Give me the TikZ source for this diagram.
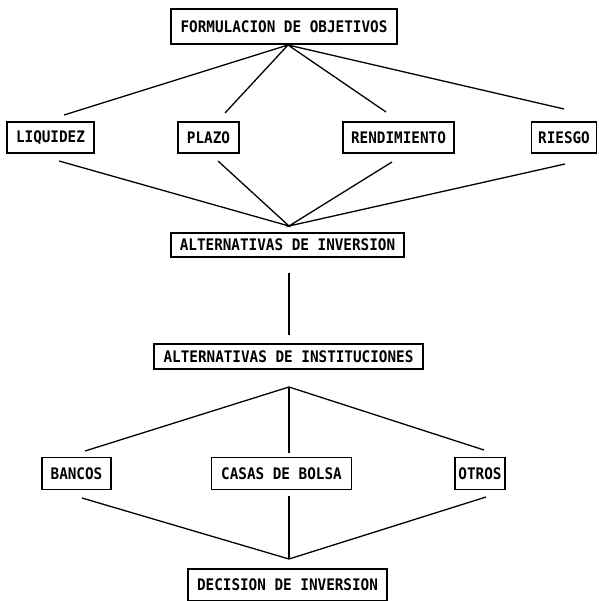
\documentclass[tikz,border=0pt]{standalone}
\usepackage{fontspec}
\newfontfamily\dgfont[FakeStretch=0.9]{DejaVu Sans Mono Bold}
\begin{document}
\begin{tikzpicture}[x=1pt,y=-1pt,
  box/.style={draw,line width=1.1pt,inner sep=0pt,minimum height=#1,font=\dgfont\fontsize{15.9}{16}\selectfont},
  box/.default=31,
  conn/.style={line width=1.3pt}]
\useasboundingbox (0,0) rectangle (598,601);
% boxes
\node[box=35,minimum width=226] (form) at (284,26.5) {FORMULACION DE OBJETIVOS};
\node[box,minimum width=87] (liq) at (50.5,137.5) {LIQUIDEZ};
\node[box,minimum width=61] (plazo) at (208.5,137.5) {PLAZO};
\node[box,minimum width=111] (rend) at (398.5,137.5) {RENDIMIENTO};
\node[box,minimum width=65] (riesgo) at (564,137.5) {RIESGO};
\node[box=24,minimum width=233] (altinv) at (287.5,245) {ALTERNATIVAS DE INVERSION};
\node[box=25,minimum width=269] (altinst) at (288.5,356.5) {ALTERNATIVAS DE INSTITUCIONES};
\node[box=32,minimum width=69] (bancos) at (76.5,473.5) {BANCOS};
\node[box=32,minimum width=140] (casas) at (281.5,473.5) {CASAS DE BOLSA};
\node[box=32,minimum width=50] (otros) at (480,473.5) {OTROS};
\node[box=32,minimum width=199] (decision) at (287.5,585) {DECISION DE INVERSION};
% connector points
\coordinate (a1) at (288,45);
\coordinate (liqT) at (64,115);
\coordinate (plazoT) at (225,113);
\coordinate (rendT) at (386,112);
\coordinate (riesgoT) at (564,109);
\coordinate (a2) at (289,226);
\coordinate (liqB) at (59,161);
\coordinate (plazoB) at (218,161);
\coordinate (rendB) at (392,162);
\coordinate (riesgoB) at (565,164);
\coordinate (invB) at (289,273);
\coordinate (instT) at (289,335);
\coordinate (a3) at (289,387);
\coordinate (bancosT) at (85,451);
\coordinate (casasT) at (289,453);
\coordinate (otrosT) at (484,450);
\coordinate (a4) at (289,559);
\coordinate (bancosB) at (82,498);
\coordinate (casasB) at (289,496);
\coordinate (otrosB) at (486,497);
% connectors
\draw[conn] (liqT) -- (a1) -- (plazoT);
\draw[conn] (rendT) -- (a1) -- (riesgoT);
\draw[conn] (liqB) -- (a2) -- (plazoB);
\draw[conn] (rendB) -- (a2) -- (riesgoB);
\draw[conn] (invB) -- (instT);
\draw[conn] (bancosT) -- (a3) -- (otrosT);
\draw[conn] (a3) -- (casasT);
\draw[conn] (bancosB) -- (a4) -- (otrosB);
\draw[conn] (casasB) -- (a4);
\end{tikzpicture}
\end{document}
